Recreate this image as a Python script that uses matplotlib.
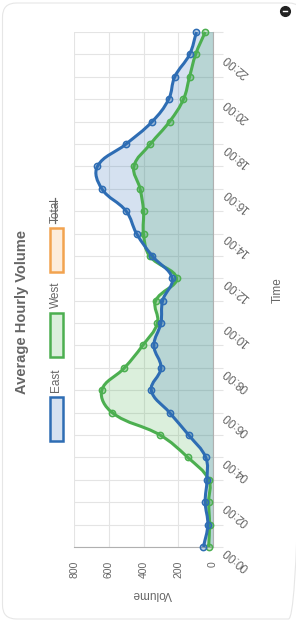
import numpy as np
import matplotlib
matplotlib.use("Agg")
import matplotlib.pyplot as plt
from matplotlib.path import Path
from matplotlib.patches import PathPatch, Rectangle, FancyBboxPatch
from matplotlib import transforms

plt.rcParams['font.family'] = ['Liberation Sans', 'DejaVu Sans']

# data: average volume per hour
times = ['00:00', '01:00', '02:00', '03:00', '04:00', '05:00', '06:00', '07:00',
         '08:00', '09:00', '10:00', '11:00', '12:00', '13:00', '14:00', '15:00',
         '16:00', '17:00', '18:00', '19:00', '20:00', '21:00', '22:00', '23:00']
east = [55, 30, 45, 35, 42, 140, 250, 355, 300, 340, 300, 290,
        235, 350, 440, 500, 640, 665, 500, 350, 255, 220, 135, 95]
west = [25, 20, 25, 25, 145, 305, 580, 640, 510, 405, 320, 330,
        210, 365, 400, 400, 420, 455, 360, 250, 170, 135, 100, 45]
volume_ticks = [0, 200, 400, 600, 800]
series_names = ['East', 'West', 'Total']

BLUE = '#2e6db4'
GREEN = '#4caf50'
ORANGE = '#f2a34f'
TEXT = '#666666'
GRID = '#e4e4e4'

W, H = 296, 623
fig = plt.figure(figsize=(W / 100, H / 100), dpi=100)

# background layer in pixel coords (y down) for title, legend, card
bg = fig.add_axes([0, 0, 1, 1], zorder=0)
bg.set_xlim(0, W)
bg.set_ylim(H, 0)
bg.axis('off')

ax = fig.add_axes([74 / W, 76 / H, 139 / W, 515 / H], zorder=1)
ax.patch.set_alpha(0)
ax.set_xlim(800, 0)
ax.set_ylim(0, 23)

hours = np.arange(len(times))
px_per_hour = 515 / 23
px_per_vol = 139 / 800


def smooth_path(vals, close=False, t=0.4):
    # chart.js style cubic bezier through the points
    pts = np.column_stack([vals, hours]).astype(float)
    scale = np.array([px_per_vol, px_per_hour])
    n = len(pts)
    cp_prev, cp_next = [], []
    for i in range(n):
        prev = pts[max(i - 1, 0)]
        cur = pts[i]
        nxt = pts[min(i + 1, n - 1)]
        d01 = np.hypot(*((cur - prev) * scale))
        d12 = np.hypot(*((nxt - cur) * scale))
        tot = d01 + d12
        fa = t * d01 / tot if tot else 0
        fb = t * d12 / tot if tot else 0
        a = cur - fa * (nxt - prev)
        b = cur + fb * (nxt - prev)
        a[0] = np.clip(a[0], 0, 800)
        b[0] = np.clip(b[0], 0, 800)
        cp_prev.append(a)
        cp_next.append(b)
    verts = [pts[0]]
    codes = [Path.MOVETO]
    for i in range(n - 1):
        verts += [cp_next[i], cp_prev[i + 1], pts[i + 1]]
        codes += [Path.CURVE4] * 3
    if close:
        verts += [(0, hours[-1]), (0, hours[0]), pts[0]]
        codes += [Path.LINETO, Path.LINETO, Path.CLOSEPOLY]
    return Path(verts, codes)


# West drawn first, East on top
for vals, col, z in [(west, GREEN, 2), (east, BLUE, 3)]:
    ax.add_patch(PathPatch(smooth_path(vals, close=True), facecolor=col,
                           alpha=0.2, edgecolor='none', zorder=z))
for vals, col, z in [(west, GREEN, 4), (east, BLUE, 5)]:
    ax.add_patch(PathPatch(smooth_path(vals), facecolor='none', edgecolor=col,
                           lw=2.2, zorder=z, clip_on=False))
    ax.plot(vals, hours, 'o', ms=4.5, mfc=matplotlib.colors.to_rgba(col, 0.3),
            mec=col, mew=1.1, zorder=z, clip_on=False)

# grid and axes
ax.set_xticks(volume_ticks)
ax.set_xticklabels([str(v) for v in volume_ticks])
ax.set_yticks(hours)
ax.set_yticklabels([])
ax.yaxis.tick_right()
ax.grid(True, color=GRID, lw=0.8, alpha=1)
ax.set_axisbelow(True)
ax.tick_params(axis='x', length=0, pad=10, labelrotation=90, labelsize=7.5,
               labelcolor=TEXT)
ax.tick_params(axis='y', length=7, color=GRID, width=0.8)
for s in ['top', 'left']:
    ax.spines[s].set_visible(False)
for s in ['right', 'bottom']:
    ax.spines[s].set_color('#b0b0b0')
    ax.spines[s].set_linewidth(0.8)

lab_tr = transforms.offset_copy(
    transforms.blended_transform_factory(ax.transAxes, ax.transData),
    fig=fig, x=12, y=-2, units='dots')
for h in hours[::2]:
    ax.text(1.0, h, times[h], transform=lab_tr, rotation=140,
            rotation_mode='anchor', ha='right', va='center',
            fontsize=8.5, color=TEXT)

# axis titles
bg.text(152, 594, 'Volume', rotation=180, ha='center', va='center',
        fontsize=8.5, color=TEXT)
bg.text(278, 290, 'Time', rotation=90, ha='center', va='center',
        fontsize=8.5, color=TEXT)

# title and legend
bg.text(22.5, 312, 'Average Hourly Volume', rotation=90, ha='center',
        va='center', fontsize=10.5, fontweight='bold', color=TEXT)

legend = [(series_names[0], BLUE, 441), (series_names[1], GREEN, 357),
          (series_names[2], ORANGE, 272)]
texts = []
for name, col, ybot in legend:
    bg.add_patch(Rectangle((49.5, ybot - 44), 13.5, 44,
                           facecolor=matplotlib.colors.to_rgba(col, 0.2),
                           edgecolor=col, lw=1.8))
    texts.append(bg.text(56, ybot - 49, name, rotation=90, ha='center',
                         va='bottom', fontsize=8.5, color=TEXT))

# hidden series: strike through its label
fig.canvas.draw()
bb = texts[2].get_window_extent().transformed(bg.transData.inverted())
xm = (bb.x0 + bb.x1) / 2 - 1
bg.plot([xm, xm], [bb.y0, bb.y1], color=TEXT, lw=0.9)

# card border and corner icon
bg.add_patch(FancyBboxPatch((2.5, 3), 300, 616, boxstyle='round,pad=0,rounding_size=14',
                            facecolor='none', edgecolor='#e6e6e6', lw=0.8))
bg.plot(285, 11, 'o', ms=7, color='#222222')
bg.plot([283, 287], [11, 11], color='white', lw=1)

fig.savefig('out.png', dpi=100)
